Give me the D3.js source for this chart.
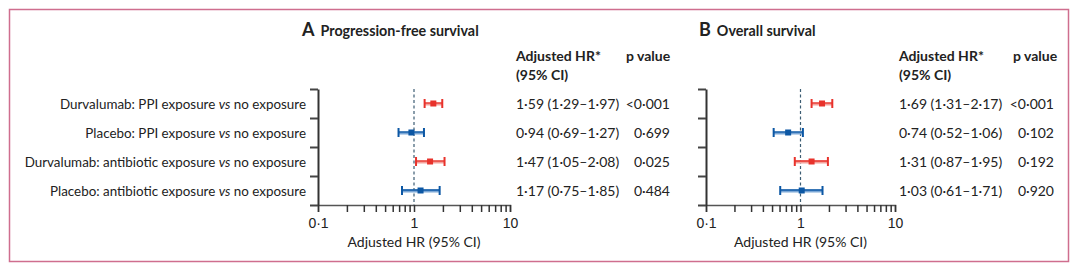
<!DOCTYPE html>
<html>
<head>
<meta charset="utf-8">
<script src="https://cdn.jsdelivr.net/npm/d3@7"></script>
<style>
  html, body { margin: 0; padding: 0; background: #fff; }
  svg { display: block; font-family: Lato, "Open Sans", sans-serif; }
</style>
</head>
<body>
<svg id="chart" width="1080" height="266"></svg>
<script>
// rows (shared by both panels)
const groups = ["Durvalumab", "Placebo", "Durvalumab", "Placebo"];
const exposures = ["PPI exposure", "PPI exposure", "antibiotic exposure", "antibiotic exposure"];

// A: progression-free survival
const pfsHR = [1.59, 0.94, 1.47, 1.17];
const pfsLo = [1.29, 0.69, 1.05, 0.75];
const pfsHi = [1.97, 1.27, 2.08, 1.85];
const pfsText = ["1·59 (1·29–1·97)", "0·94 (0·69–1·27)", "1·47 (1·05–2·08)", "1·17 (0·75–1·85)"];
const pfsP = ["<0·001", "0·699", "0·025", "0·484"];

// B: overall survival
const osHR = [1.69, 0.74, 1.31, 1.03];
const osLo = [1.31, 0.52, 0.87, 0.61];
const osHi = [2.17, 1.06, 1.95, 1.71];
const osText = ["1·69 (1·31–2·17)", "0·74 (0·52–1·06)", "1·31 (0·87–1·95)", "1·03 (0·61–1·71)"];
const osP = ["<0·001", "0·102", "0·192", "0·920"];

const xTicks = [0.1, 0.2, 0.3, 0.4, 0.5, 0.6, 0.7, 0.8, 0.9, 1, 2, 3, 4, 5, 6, 7, 8, 9, 10];
const xTickLabels = { 0.1: "0·1", 1: "1", 10: "10" };

const COLORS = {
  Durvalumab: { dark: "#e8322b", light: "#f4a29c" },
  Placebo: { dark: "#0c57a4", light: "#7ba7d6" }
};

const svg = d3.select("#chart");

// frame
svg.append("rect")
  .attr("x", 9.5).attr("y", 9.5)
  .attr("width", 1059).attr("height", 252)
  .attr("fill", "none")
  .attr("stroke", "#cf6e8e")
  .attr("stroke-width", 1.5);

const rows = d3.range(groups.length);
const TOP = 89, BOTTOM = 205;

// left-hand row labels
const y = d3.scaleBand().domain(rows).range([TOP, BOTTOM]);
const lbl = svg.append("g").attr("font-size", 13.4).attr("fill", "#222");
rows.forEach(i => {
  const t = lbl.append("text")
    .attr("x", 306)
    .attr("y", y(i) + y.bandwidth() / 2 + 5)
    .attr("text-anchor", "end");
  t.append("tspan").text(`${groups[i]}: ${exposures[i]} `);
  t.append("tspan").attr("font-style", "italic").text("vs");
  t.append("tspan").text(" no exposure");
});

function panel(opt) {
  const g = svg.append("g");
  const x = d3.scaleLog().domain([0.1, 10]).range(opt.range);
  const yEdge = d3.scaleLinear().domain([0, rows.length]).range([TOP, BOTTOM]);

  // title
  const title = g.append("text")
    .attr("x", opt.titleX).attr("y", 36)
    .attr("font-weight", "bold").attr("fill", "#222");
  title.append("tspan").attr("font-size", 18).text(opt.letter);
  title.append("tspan").attr("font-size", 14.3).attr("dx", 6).text(opt.title);

  // x axis
  const xa = g.append("g")
    .attr("transform", `translate(0,${BOTTOM})`)
    .call(d3.axisBottom(x)
      .tickValues(xTicks)
      .tickSize(7)
      .tickFormat(d => xTickLabels[d] || ""));
  xa.select(".domain").attr("stroke", "#555").attr("stroke-width", 1.5);
  xa.selectAll(".tick line").attr("stroke", "#333").attr("stroke-width", 1.5);
  xa.selectAll(".tick text")
    .attr("font-size", 14).attr("font-family", null)
    .attr("fill", "#222").attr("dy", "0.9em");

  g.append("text")
    .attr("x", x(1)).attr("y", 247)
    .attr("text-anchor", "middle")
    .attr("font-size", 14).attr("fill", "#222")
    .text("Adjusted HR (95% CI)");

  // y axis with ticks at band edges
  const ya = g.append("g")
    .attr("transform", `translate(${opt.range[0]},0)`)
    .call(d3.axisLeft(yEdge).tickValues(d3.range(rows.length + 1)).tickSize(8).tickSizeOuter(0).tickFormat(""));
  ya.select(".domain").attr("stroke", "#333").attr("stroke-width", 2);
  ya.selectAll(".tick line").attr("stroke", "#444").attr("stroke-width", 2);

  // reference line at HR = 1
  g.append("line")
    .attr("x1", x(1)).attr("x2", x(1))
    .attr("y1", TOP).attr("y2", BOTTOM)
    .attr("stroke", "#3c5d73").attr("stroke-width", 1.2)
    .attr("stroke-dasharray", "3,2.5");

  // error bars and point estimates
  const marks = g.selectAll("g.row").data(rows).join("g").attr("class", "row")
    .attr("transform", i => `translate(0,${y(i) + y.bandwidth() / 2})`);
  marks.append("line")
    .attr("x1", i => x(opt.lo[i])).attr("x2", i => x(opt.hi[i]))
    .attr("y1", 0.5).attr("y2", 0.5)
    .attr("stroke", i => COLORS[groups[i]].light).attr("stroke-width", 3);
  marks.append("line")
    .attr("x1", i => x(opt.lo[i])).attr("x2", i => x(opt.hi[i]))
    .attr("y1", -0.5).attr("y2", -0.5)
    .attr("stroke", i => COLORS[groups[i]].dark).attr("stroke-width", 1.3);
  ["lo", "hi"].forEach(k => {
    marks.append("line")
      .attr("x1", i => x(opt[k][i])).attr("x2", i => x(opt[k][i]))
      .attr("y1", -4.5).attr("y2", 4.5)
      .attr("stroke", i => COLORS[groups[i]].dark).attr("stroke-width", 2);
  });
  marks.append("rect")
    .attr("x", i => x(opt.hr[i]) - 3).attr("y", -3)
    .attr("width", 6).attr("height", 6)
    .attr("fill", i => COLORS[groups[i]].dark);

  // table columns
  const hdr = g.append("g").attr("font-size", 14).attr("font-weight", "bold").attr("fill", "#222");
  hdr.append("text").attr("x", opt.hrX).attr("y", 61).text("Adjusted HR*");
  hdr.append("text").attr("x", opt.hrX).attr("y", 80).text("(95% CI)");
  hdr.append("text").attr("x", opt.pX).attr("y", 61).text("p value");

  const tbl = g.append("g").attr("font-size", 14).attr("fill", "#222");
  rows.forEach(i => {
    const ty = y(i) + y.bandwidth() / 2 + 5;
    tbl.append("text").attr("x", opt.hrX).attr("y", ty).text(opt.text[i]);
    tbl.append("text").attr("x", opt.pEnd).attr("y", ty).attr("text-anchor", "end").text(opt.p[i]);
  });
}

panel({
  letter: "A", title: "Progression-free survival", titleX: 302,
  range: [318, 510],
  hr: pfsHR, lo: pfsLo, hi: pfsHi, text: pfsText, p: pfsP,
  hrX: 516, pX: 626, pEnd: 670
});

panel({
  letter: "B", title: "Overall survival", titleX: 699,
  range: [706, 895],
  hr: osHR, lo: osLo, hi: osHi, text: osText, p: osP,
  hrX: 899, pX: 1013, pEnd: 1054
});
</script>
</body>
</html>
